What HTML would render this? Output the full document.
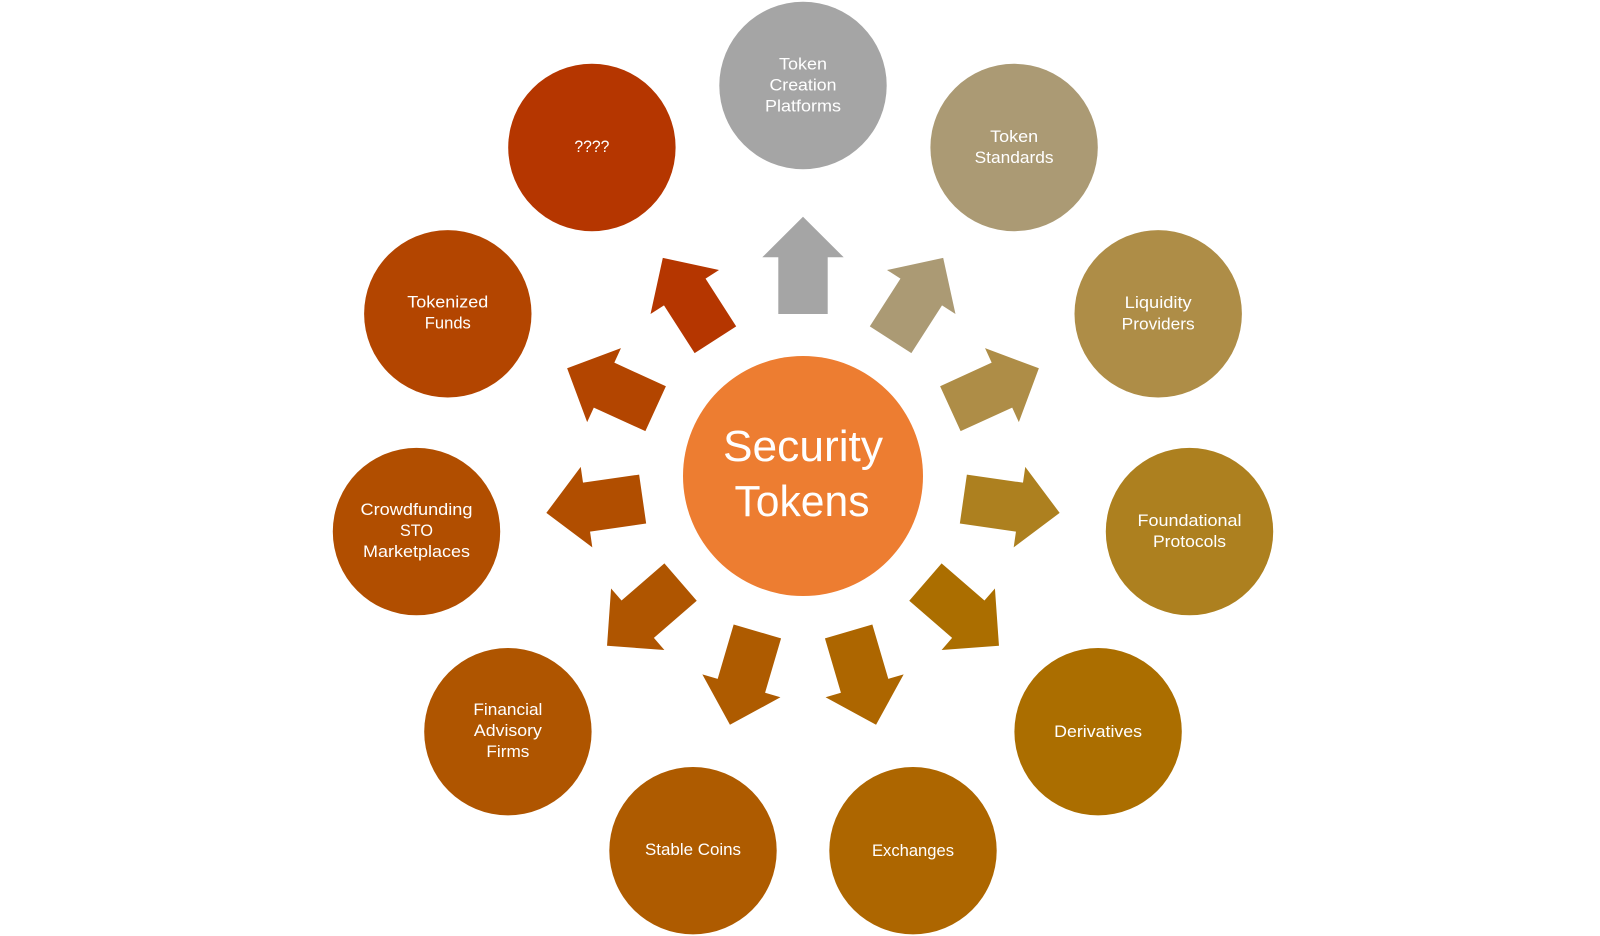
<!DOCTYPE html>
<html lang="en">
<head>
<meta charset="utf-8">
<title>Security Tokens</title>
<style>
html,body{margin:0;padding:0;background:#fff;width:1600px;height:936px;overflow:hidden}
svg{display:block}
text{font-family:"Liberation Sans",sans-serif;font-size:17px;fill:#fff;text-anchor:middle}
text.big{font-size:44px}
</style>
</head>
<body>
<svg width="1600" height="936" viewBox="0 0 1600 936" xmlns="http://www.w3.org/2000/svg">
<defs>
<polygon id="a" points="803,216.7 843.7,257.3 827.7,257.3 827.7,314 778.3,314 778.3,257.3 762.3,257.3"/>
</defs>
<rect width="1600" height="936" fill="#fff"/>

<use href="#a" fill="#A5A5A5"/>
<use href="#a" fill="#AB9A74" transform="rotate(32.727 803 476)"/>
<use href="#a" fill="#AE8D47" transform="rotate(65.455 803 476)"/>
<use href="#a" fill="#AD801F" transform="rotate(98.182 803 476)"/>
<use href="#a" fill="#AB6E00" transform="rotate(130.909 803 476)"/>
<use href="#a" fill="#AD6600" transform="rotate(163.636 803 476)"/>
<use href="#a" fill="#AE5B00" transform="rotate(196.364 803 476)"/>
<use href="#a" fill="#AF5500" transform="rotate(229.091 803 476)"/>
<use href="#a" fill="#B14E00" transform="rotate(261.818 803 476)"/>
<use href="#a" fill="#B34500" transform="rotate(294.545 803 476)"/>
<use href="#a" fill="#B53600" transform="rotate(327.273 803 476)"/>

<circle cx="803" cy="476" r="120" fill="#ED7D31"/>
<text class="big" x="803" y="461" textLength="160" lengthAdjust="spacingAndGlyphs">Security</text>
<text class="big" x="802" y="516" textLength="135" lengthAdjust="spacingAndGlyphs">Tokens</text>

<circle cx="803" cy="85.5" r="83.7" fill="#A5A5A5"/>
<text x="803" y="69.5" textLength="48" lengthAdjust="spacingAndGlyphs">Token</text>
<text x="803" y="90.5" textLength="67" lengthAdjust="spacingAndGlyphs">Creation</text>
<text x="803" y="111.5" textLength="76" lengthAdjust="spacingAndGlyphs">Platforms</text>

<circle cx="1014.1" cy="147.5" r="83.7" fill="#AB9A74"/>
<text x="1014.1" y="142" textLength="48" lengthAdjust="spacingAndGlyphs">Token</text>
<text x="1014.1" y="163" textLength="79" lengthAdjust="spacingAndGlyphs">Standards</text>

<circle cx="1158.2" cy="313.8" r="83.7" fill="#AE8D47"/>
<text x="1158.2" y="308" textLength="67" lengthAdjust="spacingAndGlyphs">Liquidity</text>
<text x="1158.2" y="329.5" textLength="73" lengthAdjust="spacingAndGlyphs">Providers</text>

<circle cx="1189.5" cy="531.6" r="83.7" fill="#AD801F"/>
<text x="1189.5" y="526" textLength="104" lengthAdjust="spacingAndGlyphs">Foundational</text>
<text x="1189.5" y="547" textLength="73" lengthAdjust="spacingAndGlyphs">Protocols</text>

<circle cx="1098.1" cy="731.7" r="83.7" fill="#AB6E00"/>
<text x="1098.1" y="737" textLength="88" lengthAdjust="spacingAndGlyphs">Derivatives</text>

<circle cx="913" cy="850.7" r="83.7" fill="#AD6600"/>
<text x="913" y="856" textLength="82" lengthAdjust="spacingAndGlyphs">Exchanges</text>

<circle cx="693" cy="850.7" r="83.7" fill="#AE5B00"/>
<text x="693" y="855" textLength="96" lengthAdjust="spacingAndGlyphs">Stable Coins</text>

<circle cx="507.9" cy="731.7" r="83.7" fill="#AF5500"/>
<text x="507.9" y="715" textLength="69" lengthAdjust="spacingAndGlyphs">Financial</text>
<text x="507.9" y="736" textLength="68" lengthAdjust="spacingAndGlyphs">Advisory</text>
<text x="507.9" y="757" textLength="43" lengthAdjust="spacingAndGlyphs">Firms</text>

<circle cx="416.5" cy="531.6" r="83.7" fill="#B14E00"/>
<text x="416.5" y="515" textLength="112" lengthAdjust="spacingAndGlyphs">Crowdfunding</text>
<text x="416.5" y="536" textLength="33" lengthAdjust="spacingAndGlyphs">STO</text>
<text x="416.5" y="557" textLength="107" lengthAdjust="spacingAndGlyphs">Marketplaces</text>

<circle cx="447.8" cy="313.8" r="83.7" fill="#B34500"/>
<text x="447.8" y="307.5" textLength="81" lengthAdjust="spacingAndGlyphs">Tokenized</text>
<text x="447.8" y="328.5" textLength="46" lengthAdjust="spacingAndGlyphs">Funds</text>

<circle cx="591.9" cy="147.5" r="83.7" fill="#B53600"/>
<text x="591.9" y="152" textLength="35" lengthAdjust="spacingAndGlyphs">????</text>
</svg>
</body>
</html>
